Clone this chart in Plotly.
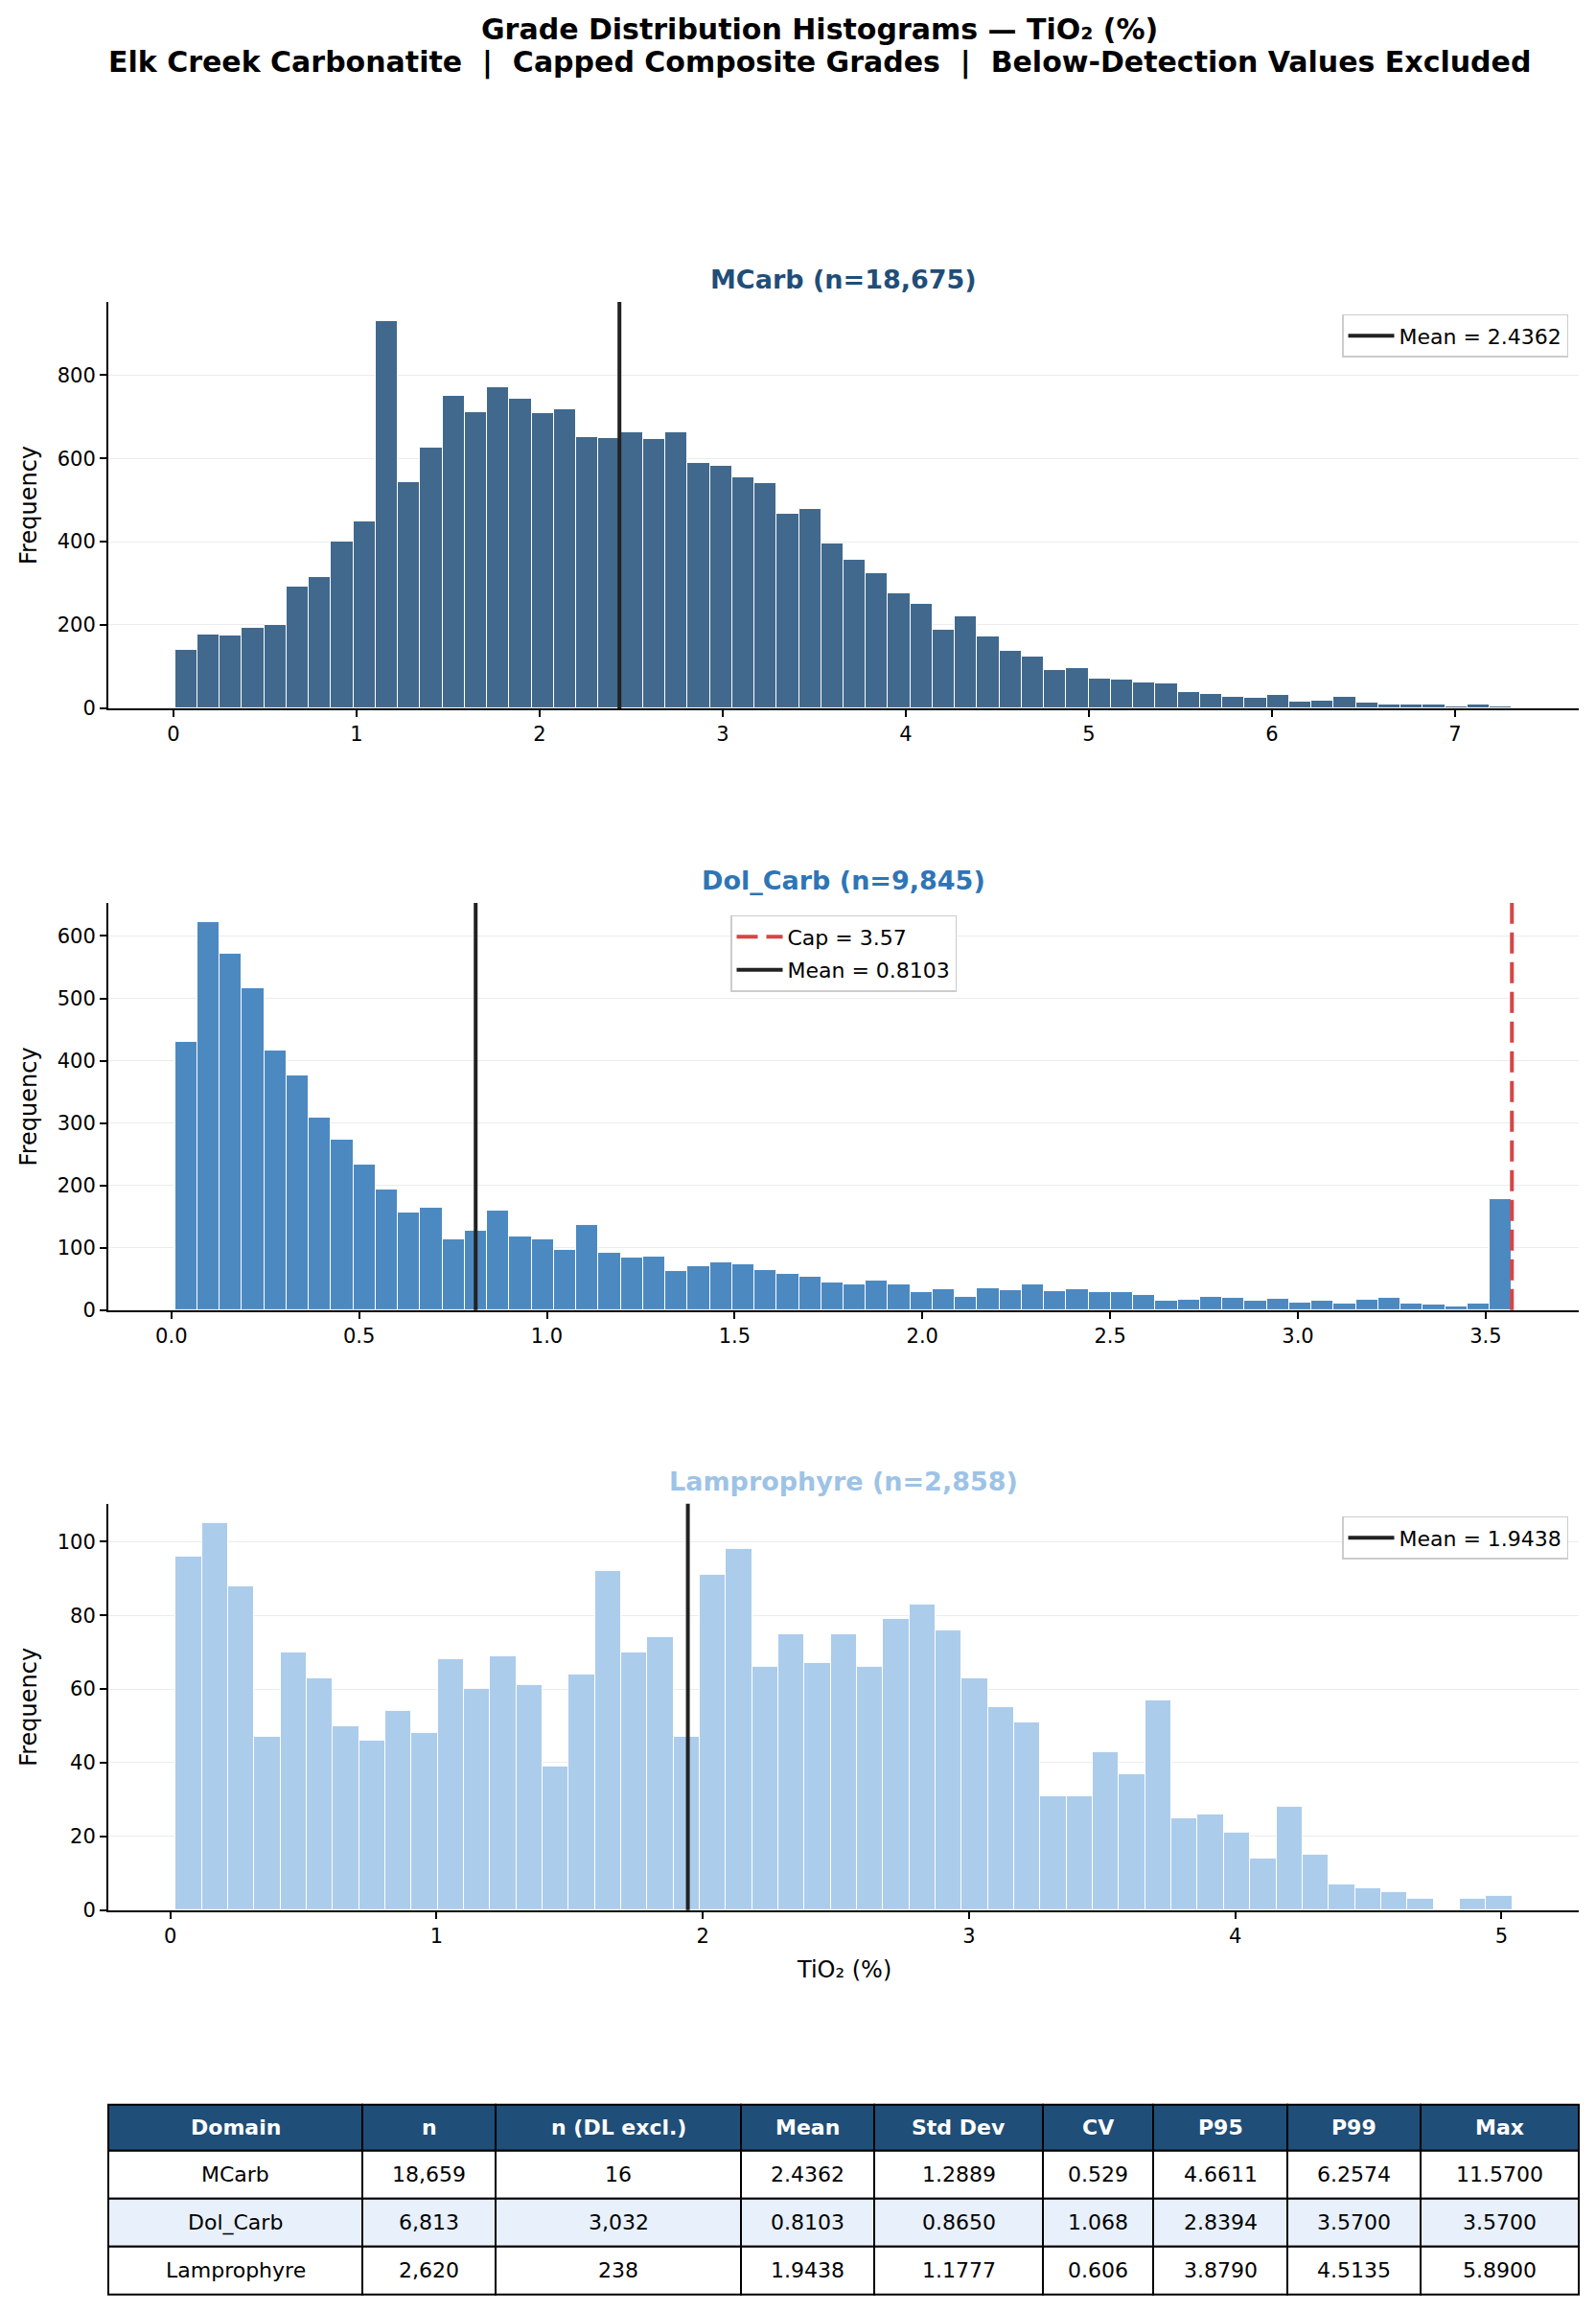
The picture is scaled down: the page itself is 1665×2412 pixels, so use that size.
import numpy as np
import plotly.graph_objects as go

W, H = 1665, 2412

# ---- data ----
domains = ["MCarb", "Dol_Carb", "Lamprophyre"]
title_n = [18675, 9845, 2858]
means = [2.4362, 0.8103, 1.9438]
dol_cap = 3.57

# histogram bin ranges (first edge, last edge) and counts
mcarb_range = (0.01, 7.31)
mcarb_counts = [140, 178, 174, 193, 201, 292, 315, 400, 448, 929,
                542, 625, 749, 711, 770, 743, 709, 717, 650, 648,
                662, 646, 662, 588, 581, 554, 540, 466, 478, 395,
                356, 324, 276, 251, 189, 220, 172, 137, 125, 93,
                96, 72, 70, 61, 59, 38, 34, 28, 25, 31,
                15, 18, 27, 13, 8, 8, 8, 4, 8, 4]

dol_range = (0.01, 3.57)
dol_counts = [430, 622, 572, 517, 417, 377, 309, 274, 234, 194,
              157, 165, 114, 128, 160, 118, 114, 97, 137, 92,
              85, 86, 63, 71, 77, 74, 65, 58, 54, 45,
              42, 48, 42, 29, 34, 22, 35, 32, 42, 31,
              34, 29, 29, 25, 15, 17, 22, 20, 15, 18,
              12, 15, 11, 17, 20, 11, 9, 6, 11, 178]

lamp_range = (0.02, 5.04)
lamp_counts = [96, 105, 88, 47, 70, 63, 50, 46, 54, 48,
               68, 60, 69, 61, 39, 64, 92, 70, 74, 47,
               91, 98, 66, 75, 67, 75, 66, 79, 83, 76,
               63, 55, 51, 31, 31, 43, 37, 57, 25, 26,
               21, 14, 28, 15, 7, 6, 5, 3, 0, 3, 4]

# summary table
tbl_header = ["Domain", "n", "n (DL excl.)", "Mean", "Std Dev", "CV", "P95", "P99", "Max"]
tbl_domain = ["MCarb", "Dol_Carb", "Lamprophyre"]
tbl_n = ["18,659", "6,813", "2,620"]
tbl_dl = ["16", "3,032", "238"]
tbl_mean = ["2.4362", "0.8103", "1.9438"]
tbl_std = ["1.2889", "0.8650", "1.1777"]
tbl_cv = ["0.529", "1.068", "0.606"]
tbl_p95 = ["4.6611", "2.8394", "3.8790"]
tbl_p99 = ["6.2574", "3.5700", "4.5135"]
tbl_max = ["11.5700", "3.5700", "5.8900"]

# ---- styling ----
title_colors = ["#1f4e79", "#2e75b6", "#9dc3e6"]
bar_colors = ["#41698d", "#4d89c1", "#accceb"]
FONT = "DejaVu Sans"

# axes boxes in pixels: (left, right, top, bottom)
x_px = (113, 1647)
y_px = [(315, 739), (942, 1367), (1569, 1993)]
x_ranges = [(-0.355, 7.675), (-0.168, 3.748), (-0.233, 5.29)]
x_dticks = [1, 0.5, 1]
y_dticks = [200, 100, 20]

# table geometry (px)
col_w = [265, 139, 256, 139, 176, 115, 140, 139, 165]
tbl_top, head_h, row_h = 2196, 48, 50
row_fill = ["white", "#e8f0fb", "white"]

YS = 1.0049  # small vertical stretch measured against the source


def px_x(p):
    return p / W


def px_y(p):
    return 1 - p * YS / H


fig = go.Figure()

hists = [(mcarb_range, mcarb_counts), (dol_range, dol_counts), (lamp_range, lamp_counts)]

for i, (rng, counts) in enumerate(hists):
    k = "" if i == 0 else str(i + 1)
    edges = np.linspace(rng[0], rng[1], len(counts) + 1)
    centers = (edges[:-1] + edges[1:]) / 2
    width = edges[1] - edges[0]
    fig.add_trace(go.Bar(
        x=centers, y=counts, width=width,
        marker=dict(color=bar_colors[i], line=dict(color="white", width=1)),
        xaxis="x" + k, yaxis="y" + k, showlegend=False, hoverinfo="x+y",
    ))

    top, bot = y_px[i]
    ymax = max(counts) * 1.05
    fig.update_layout(**{
        "xaxis" + k: dict(
            domain=[px_x(x_px[0]), px_x(x_px[1])], anchor="y" + k,
            range=list(x_ranges[i]), dtick=x_dticks[i],
            tickformat=".1f" if x_dticks[i] < 1 else "d",
            showline=True, linecolor="black", linewidth=2,
            ticks="outside", ticklen=7, tickwidth=1.6, tickcolor="black",
            showgrid=False, zeroline=False,
            tickfont=dict(size=21, color="black"),
        ),
        "yaxis" + k: dict(
            domain=[px_y(bot), px_y(top)], anchor="x" + k,
            range=[0, ymax], dtick=y_dticks[i],
            showline=True, linecolor="black", linewidth=2,
            ticks="outside", ticklen=7, tickwidth=1.6, tickcolor="black",
            showgrid=True, gridcolor="#ececec", gridwidth=1, zeroline=False,
            tickfont=dict(size=21, color="black"),
        ),
    })

    # subplot title
    fig.add_annotation(
        text=f"<b>{domains[i]} (n={title_n[i]:,})</b>",
        x=px_x((x_px[0] + x_px[1]) / 2), y=px_y(top - 23),
        xref="paper", yref="paper", xanchor="center", yanchor="middle",
        showarrow=False, font=dict(size=27, color=title_colors[i], family=FONT),
    )
    # y title
    fig.add_annotation(
        text="Frequency", textangle=-90,
        x=px_x(30), y=px_y((top + bot) / 2),
        xref="paper", yref="paper", xanchor="center", yanchor="middle",
        showarrow=False, font=dict(size=24, color="black", family=FONT),
    )

    leg = "legend" if i == 0 else "legend" + str(i + 1)
    if i == 1:
        fig.add_shape(
            type="line", xref="x" + k, yref="y" + k + " domain",
            x0=dol_cap, x1=dol_cap, y0=0, y1=1,
            line=dict(color="#d64545", width=4, dash="22px,9px"),
            showlegend=True, name=f"Cap = {dol_cap}", legend=leg,
            legendrank=1, legendgroup="cap",
        )
    fig.add_shape(
        type="line", xref="x" + k, yref="y" + k + " domain",
        x0=means[i], x1=means[i], y0=0, y1=1,
        line=dict(color="#222222", width=4),
        showlegend=True, name=f"Mean = {means[i]:.4f}", legend=leg,
        legendrank=2, legendgroup="mean",
    )

legend_style = dict(
    bgcolor="white", bordercolor="#cccccc", borderwidth=1.5,
    font=dict(size=22, color="black", family=FONT),
    xref="paper", yref="paper", yanchor="top", tracegroupgap=3,
    itemwidth=48,
)
fig.update_layout(
    legend=dict(x=px_x(1636), y=px_y(328), xanchor="right", **legend_style),
    legend2=dict(x=px_x(880), y=px_y(955), xanchor="center", **legend_style),
    legend3=dict(x=px_x(1636), y=px_y(1582), xanchor="right", **legend_style),
)

# x title on the bottom panel
fig.add_annotation(
    text="TiO₂ (%)", x=px_x((x_px[0] + x_px[1]) / 2), y=px_y(2055),
    xref="paper", yref="paper", xanchor="center", yanchor="middle",
    showarrow=False, font=dict(size=24, color="black", family=FONT),
)

# main title (centred a little right of the page middle, as in the source)
title_cx = px_x(855)
fig.add_annotation(
    text="<b>Grade Distribution Histograms — TiO₂ (%)</b>",
    x=title_cx, y=px_y(31), xref="paper", yref="paper",
    xanchor="center", yanchor="middle", showarrow=False,
    font=dict(size=30, color="black", family=FONT),
)
fig.add_annotation(
    text="<b>Elk Creek Carbonatite \u00a0|\u00a0 Capped Composite Grades \u00a0|\u00a0 Below-Detection Values Excluded</b>",
    x=title_cx, y=px_y(65), xref="paper", yref="paper",
    xanchor="center", yanchor="middle", showarrow=False,
    font=dict(size=30, color="black", family=FONT),
)

# summary table, drawn cell by cell so the text sits in the middle of each cell
columns = [tbl_domain, tbl_n, tbl_dl, tbl_mean, tbl_std, tbl_cv, tbl_p95, tbl_p99, tbl_max]
col_x = np.concatenate([[x_px[0]], x_px[0] + np.cumsum(col_w)])
row_y = [tbl_top, tbl_top + head_h] + [tbl_top + head_h + row_h * (r + 1) for r in range(len(tbl_domain))]

for c, head in enumerate(tbl_header):
    x0, x1 = col_x[c], col_x[c + 1]
    fig.add_shape(
        type="rect", xref="paper", yref="paper",
        x0=px_x(x0), x1=px_x(x1), y0=px_y(row_y[1]), y1=px_y(row_y[0]),
        fillcolor="#1f4e79", line=dict(color="black", width=2), layer="above",
    )
    fig.add_annotation(
        text=f"<b>{head}</b>", x=px_x((x0 + x1) / 2), y=px_y((row_y[0] + row_y[1]) / 2),
        xref="paper", yref="paper", xanchor="center", yanchor="middle",
        showarrow=False, font=dict(size=22, color="white", family=FONT),
    )
    for r, val in enumerate(columns[c]):
        fig.add_shape(
            type="rect", xref="paper", yref="paper",
            x0=px_x(x0), x1=px_x(x1), y0=px_y(row_y[r + 2]), y1=px_y(row_y[r + 1]),
            fillcolor=row_fill[r], line=dict(color="black", width=2), layer="above",
        )
        fig.add_annotation(
            text=val, x=px_x((x0 + x1) / 2), y=px_y((row_y[r + 1] + row_y[r + 2]) / 2),
            xref="paper", yref="paper", xanchor="center", yanchor="middle",
            showarrow=False, font=dict(size=22, color="black", family=FONT),
        )

fig.update_layout(
    width=W, height=H, autosize=False,
    margin=dict(l=0, r=0, t=0, b=0),
    paper_bgcolor="white", plot_bgcolor="white",
    bargap=0, barmode="overlay",
    font=dict(family=FONT, size=21, color="black"),
)

# pin the figure to the window origin and keep the page exactly one window tall
page_js = (
    "document.body.style.margin='0';"
    "document.body.style.overflow='hidden';"
    "document.documentElement.style.overflow='hidden';"
    "document.body.style.height='2412px';"
)
fig.write_html("out.html", post_script=page_js, config={"displayModeBar": False})
